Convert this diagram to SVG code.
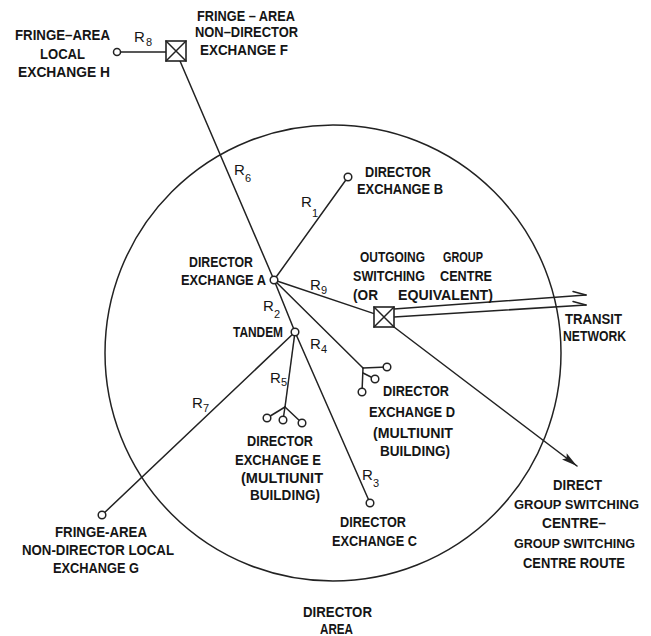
<svg xmlns="http://www.w3.org/2000/svg" width="651" height="636" viewBox="0 0 651 636">
<style>
.t{font-family:"Liberation Sans",Arial,sans-serif;font-weight:bold;font-size:14.5px;fill:#151515}
.r{font-family:"Liberation Sans",Arial,sans-serif;font-size:15px;fill:#151515}
.s{font-size:11px}
.ln{stroke:#222;stroke-width:1.5;fill:none;stroke-linecap:round}
.nd{stroke:#222;stroke-width:1.5;fill:#fff}
.bx{stroke:#222;stroke-width:1.6;fill:#fff}
</style>
<defs>
<marker id="dart" markerUnits="userSpaceOnUse" markerWidth="18" markerHeight="10" refX="16" refY="5" orient="auto">
<path d="M0,1 L16,5 L0,9 L3,5 z" fill="#222"/>
</marker>
</defs>
<rect width="651" height="636" fill="#fff"/>

<g id="area">
<circle cx="333" cy="353" r="228" class="ln"/>
<text class="t" x="303" y="617" textLength="69" lengthAdjust="spacingAndGlyphs">DIRECTOR</text>
<text class="t" x="320" y="634" textLength="33" lengthAdjust="spacingAndGlyphs">AREA</text>
</g>

<g id="connectors">
<line class="ln" x1="120" y1="52" x2="166" y2="52"/>
<line class="ln" x1="180" y1="61" x2="274" y2="280"/>
<line class="ln" x1="274" y1="280" x2="348" y2="177"/>
<line class="ln" x1="274" y1="280" x2="374" y2="313.6"/>
<line class="ln" x1="274" y1="280" x2="295" y2="332"/>
<line class="ln" x1="274" y1="280" x2="363" y2="368"/>
<line class="ln" x1="295" y1="332" x2="285" y2="407"/>
<line class="ln" x1="295" y1="332" x2="370" y2="503"/>
<line class="ln" x1="295" y1="332" x2="102" y2="515"/>
<line class="ln" x1="394" y1="309" x2="586" y2="295"/>
<line class="ln" x1="394" y1="317" x2="586" y2="305"/>
<line class="ln" x1="573" y1="291.5" x2="586" y2="295"/>
<line class="ln" x1="573" y1="301.5" x2="586" y2="305"/>
<line class="ln" x1="394" y1="327" x2="577" y2="466" marker-end="url(#dart)"/>
<line class="ln" x1="363" y1="368" x2="362" y2="392"/>
<line class="ln" x1="363" y1="368" x2="387" y2="367"/>
<line class="ln" x1="363" y1="373" x2="375" y2="379"/>
<line class="ln" x1="285" y1="407" x2="267" y2="418"/>
<line class="ln" x1="285" y1="407" x2="283" y2="420"/>
<line class="ln" x1="285" y1="407" x2="302" y2="423"/>
<text class="r" x="134" y="42">R<tspan class="s" x="146" y="46">8</tspan></text>
<text class="r" x="234" y="175">R<tspan class="s" x="245" y="182">6</tspan></text>
<text class="r" x="301" y="207">R<tspan class="s" x="312" y="217">1</tspan></text>
<text class="r" x="310" y="290">R<tspan class="s" x="321" y="294">9</tspan></text>
<text class="r" x="263" y="311">R<tspan class="s" x="274" y="318">2</tspan></text>
<text class="r" x="310" y="349">R<tspan class="s" x="321" y="353">4</tspan></text>
<text class="r" x="270" y="383">R<tspan class="s" x="281" y="386">5</tspan></text>
<text class="r" x="192" y="408">R<tspan class="s" x="203" y="412">7</tspan></text>
<text class="r" x="362" y="480">R<tspan class="s" x="373" y="487">3</tspan></text>
</g>

<g id="exchangeH">
<circle class="nd" cx="117" cy="52" r="3.5"/>
<text class="t" x="15" y="40" textLength="95" lengthAdjust="spacingAndGlyphs">FRINGE–AREA</text>
<text class="t" x="40" y="59" textLength="45" lengthAdjust="spacingAndGlyphs">LOCAL</text>
<text class="t" x="18" y="77" textLength="92" lengthAdjust="spacingAndGlyphs">EXCHANGE H</text>
</g>

<g id="exchangeF">
<rect class="bx" x="166" y="41" width="20" height="20"/>
<path class="ln" d="M166,41 L186,61 M186,41 L166,61"/>
<text class="t" x="197" y="21" textLength="98" lengthAdjust="spacingAndGlyphs">FRINGE – AREA</text>
<text class="t" x="195" y="37" textLength="103" lengthAdjust="spacingAndGlyphs">NON–DIRECTOR</text>
<text class="t" x="200" y="55" textLength="88" lengthAdjust="spacingAndGlyphs">EXCHANGE F</text>
</g>

<g id="exchangeB">
<circle class="nd" cx="348" cy="177" r="3.8"/>
<text class="t" x="365" y="177" textLength="66" lengthAdjust="spacingAndGlyphs">DIRECTOR</text>
<text class="t" x="357" y="194" textLength="86" lengthAdjust="spacingAndGlyphs">EXCHANGE B</text>
</g>

<g id="exchangeA">
<circle class="nd" cx="274" cy="280" r="3.8"/>
<text class="t" x="189" y="267" textLength="64" lengthAdjust="spacingAndGlyphs">DIRECTOR</text>
<text class="t" x="181" y="285" textLength="85" lengthAdjust="spacingAndGlyphs">EXCHANGE A</text>
</g>

<g id="gsc">
<rect class="bx" x="374" y="307" width="20" height="20"/>
<path class="ln" d="M374,307 L394,327 M394,307 L374,327"/>
<text class="t" x="360" y="262" textLength="65" lengthAdjust="spacingAndGlyphs">OUTGOING</text>
<text class="t" x="443" y="262" textLength="40" lengthAdjust="spacingAndGlyphs">GROUP</text>
<text class="t" x="353" y="281" textLength="72" lengthAdjust="spacingAndGlyphs">SWITCHING</text>
<text class="t" x="440" y="281" textLength="52" lengthAdjust="spacingAndGlyphs">CENTRE</text>
<text class="t" x="353" y="300" textLength="25" lengthAdjust="spacingAndGlyphs">(OR</text>
<text class="t" x="398" y="300" textLength="95" lengthAdjust="spacingAndGlyphs">EQUIVALENT)</text>
</g>

<g id="transit">
<text class="t" x="565" y="324" textLength="57" lengthAdjust="spacingAndGlyphs">TRANSIT</text>
<text class="t" x="563" y="341" textLength="63" lengthAdjust="spacingAndGlyphs">NETWORK</text>
</g>

<g id="tandem">
<circle class="nd" cx="295" cy="332" r="3.8"/>
<text class="t" x="233" y="337" textLength="50" lengthAdjust="spacingAndGlyphs">TANDEM</text>
</g>

<g id="exchangeD">
<circle class="nd" cx="387" cy="367" r="3.8"/>
<circle class="nd" cx="375" cy="379" r="3.8"/>
<circle class="nd" cx="362" cy="392" r="3.8"/>
<text class="t" x="383" y="396" textLength="66" lengthAdjust="spacingAndGlyphs">DIRECTOR</text>
<text class="t" x="369" y="417" textLength="86" lengthAdjust="spacingAndGlyphs">EXCHANGE D</text>
<text class="t" x="373" y="438" textLength="80" lengthAdjust="spacingAndGlyphs">(MULTIUNIT</text>
<text class="t" x="380" y="456" textLength="70" lengthAdjust="spacingAndGlyphs">BUILDING)</text>
</g>

<g id="exchangeE">
<circle class="nd" cx="267" cy="418" r="3.8"/>
<circle class="nd" cx="283" cy="420" r="3.8"/>
<circle class="nd" cx="302" cy="423" r="3.8"/>
<text class="t" x="247" y="446" textLength="66" lengthAdjust="spacingAndGlyphs">DIRECTOR</text>
<text class="t" x="235" y="465" textLength="86" lengthAdjust="spacingAndGlyphs">EXCHANGE E</text>
<text class="t" x="241" y="483" textLength="82" lengthAdjust="spacingAndGlyphs">(MULTIUNIT</text>
<text class="t" x="250" y="500" textLength="70" lengthAdjust="spacingAndGlyphs">BUILDING)</text>
</g>

<g id="exchangeC">
<circle class="nd" cx="370" cy="503" r="3.8"/>
<text class="t" x="340" y="527" textLength="66" lengthAdjust="spacingAndGlyphs">DIRECTOR</text>
<text class="t" x="332" y="546" textLength="85" lengthAdjust="spacingAndGlyphs">EXCHANGE C</text>
</g>

<g id="exchangeG">
<circle class="nd" cx="102" cy="515" r="3.8"/>
<text class="t" x="55" y="537" textLength="92" lengthAdjust="spacingAndGlyphs">FRINGE-AREA</text>
<text class="t" x="22" y="555" textLength="152" lengthAdjust="spacingAndGlyphs">NON-DIRECTOR LOCAL</text>
<text class="t" x="53" y="573" textLength="86" lengthAdjust="spacingAndGlyphs">EXCHANGE G</text>
</g>

<g id="directRoute">
<text class="t" x="553" y="490" textLength="49" lengthAdjust="spacingAndGlyphs">DIRECT</text>
<text class="t" x="514" y="509" style="font-size:13.5px" textLength="125" lengthAdjust="spacingAndGlyphs">GROUP SWITCHING</text>
<text class="t" x="542" y="528" textLength="64" lengthAdjust="spacingAndGlyphs">CENTRE–</text>
<text class="t" x="514" y="548" style="font-size:13.5px" textLength="121" lengthAdjust="spacingAndGlyphs">GROUP SWITCHING</text>
<text class="t" x="523" y="568" textLength="102" lengthAdjust="spacingAndGlyphs">CENTRE ROUTE</text>
</g>
</svg>
